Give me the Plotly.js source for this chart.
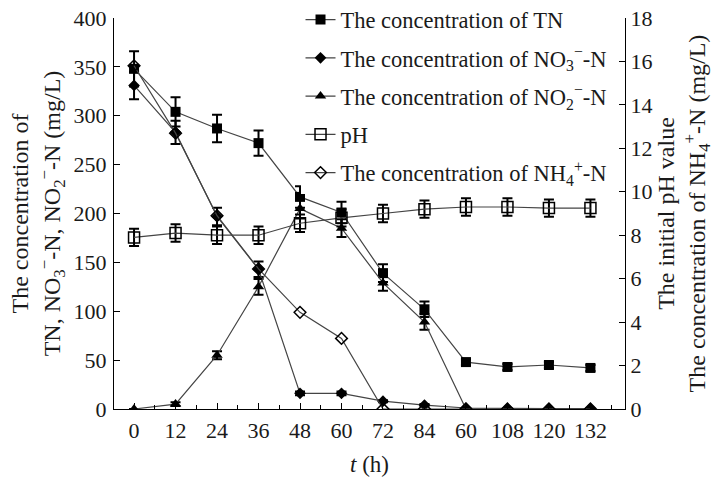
<!DOCTYPE html>
<html><head><meta charset="utf-8">
<script src="https://cdn.plot.ly/plotly-3.0.1.min.js"></script>
<style>html,body{margin:0;padding:0;background:#fff}#c{width:714px;height:478px}</style>
</head><body><div id="c"></div>
<script>
const hours = [0,12,24,36,48,60,72,84,96,108,120,132];
const hourLabels = ["0","12","24","36","48","60","72","84","60","108","120","132"];
const tn = [348,304,287,272,217,201,139,102,48,43,45,42];
const tnErr = [18,15,14,13,11,11,9,8,3,3,3,3];
const no3 = [331,283,197,143,16,16,8,4,1,0.5,0.5,0.5];
const no3Err = [14,12,9,8,2,2,1,1,0,0,0,0];
const no2 = [0,5,55,125,205,185,129,89,0,0,0,0];
const no2Err = [0,2,4,8,10,9,8,8,0,0,0,0];
const ph = [7.9,8.1,8.0,8.0,8.55,8.8,9.0,9.2,9.3,9.3,9.25,9.25];
const phErr = [0.4,0.4,0.4,0.4,0.4,0.4,0.4,0.4,0.4,0.4,0.4,0.4];
const nh4 = [15.8,12.7,8.9,6.45,4.45,3.25,0,0,0,0,0,0];

const F = "Liberation Serif, Times New Roman, serif";
const lineStyle = {color:'#444', width:1.2};
const eb = (arr)=>({type:'data', array:arr, visible:true, color:'#000', thickness:2, width:5});

const traces = [
  {x:hours, y:tn, name:'The concentration of TN', mode:'lines+markers', line:lineStyle,
   marker:{symbol:'square', size:10, color:'#000'}, error_y:eb(tnErr), legendgroup:'a'},
  {x:hours, y:no3, name:'The concentration of NO<sub>3</sub><sup>−</sup>-N', mode:'lines+markers', line:lineStyle,
   marker:{symbol:'diamond', size:9, color:'#000'}, error_y:eb(no3Err), legendgroup:'b'},
  {x:hours, y:no2, name:'The concentration of NO<sub>2</sub><sup>−</sup>-N', mode:'lines+markers', line:lineStyle,
   marker:{symbol:'triangle-up', size:10, color:'#000'}, error_y:eb(no2Err), legendgroup:'c'},
  {x:hours, y:ph, name:'pH', yaxis:'y2', mode:'lines+markers', line:lineStyle,
   marker:{symbol:'square-open', size:11, color:'#000', line:{width:1.5}}, error_y:eb(phErr), legendgroup:'d'},
  {x:hours, y:nh4, name:'The concentration of NH<sub>4</sub><sup>+</sup>-N', yaxis:'y2', mode:'lines+markers', line:lineStyle,
   marker:{symbol:'diamond-open', size:9, color:'#000', line:{width:1.5}}, legendgroup:'e'}
];

const layout = {
  width:714, height:478,
  margin:{l:114, r:89, t:18, b:69, autoexpand:false},
  paper_bgcolor:'#fff', plot_bgcolor:'#fff',
  font:{family:F, size:21, color:'#1a1a1a'},
  showlegend:true,
  legend:{x:0.365, y:1.05, xanchor:'left', yanchor:'top', bgcolor:'#fff', borderwidth:0,
          font:{family:F, size:22.5, color:'#1a1a1a'}, tracegroupgap:6, traceorder:'grouped', itemwidth:30},
  xaxis:{range:[-5.8,142], tickvals:hours, ticktext:hourLabels, showgrid:false, zeroline:false,
         showline:true, linecolor:'#000', linewidth:1.2, ticks:'inside', ticklen:6, tickcolor:'#000',
         tickfont:{family:F, size:22}, ticklabelstandoff:1,
         minor:{tickvals:[6,18,30,42,54,66,78,90,102,114,126,138], ticks:'inside', ticklen:4, tickcolor:'#000', showgrid:false},
         title:{text:'<i>t</i> (h)', font:{family:F, size:23}, standoff:14}},
  yaxis:{range:[0,400], dtick:50, showgrid:false, zeroline:false, showline:true, linecolor:'#000', linewidth:1.2,
         ticks:'inside', ticklen:6, tickcolor:'#000', tickfont:{family:F, size:22}, ticklabelstandoff:2,
         title:{text:'The concentration of<br>TN, NO<sub>3</sub><sup>−</sup>-N, NO<sub>2</sub><sup>−</sup>-N (mg/L)', font:{family:F, size:24}, standoff:6}},
  yaxis2:{range:[0,18], dtick:2, overlaying:'y', side:'right', showgrid:false, zeroline:false, showline:true,
          linecolor:'#000', linewidth:1.2, ticks:'inside', ticklen:6, tickcolor:'#000', tickfont:{family:F, size:22},
          title:{text:'The initial pH value<br>The concentration of NH<sub>4</sub><sup>+</sup>-N (mg/L)', font:{family:F, size:24}, standoff:19}}
};
Plotly.newPlot('c', traces, layout, {displayModeBar:false, staticPlot:true});
</script></body></html>
